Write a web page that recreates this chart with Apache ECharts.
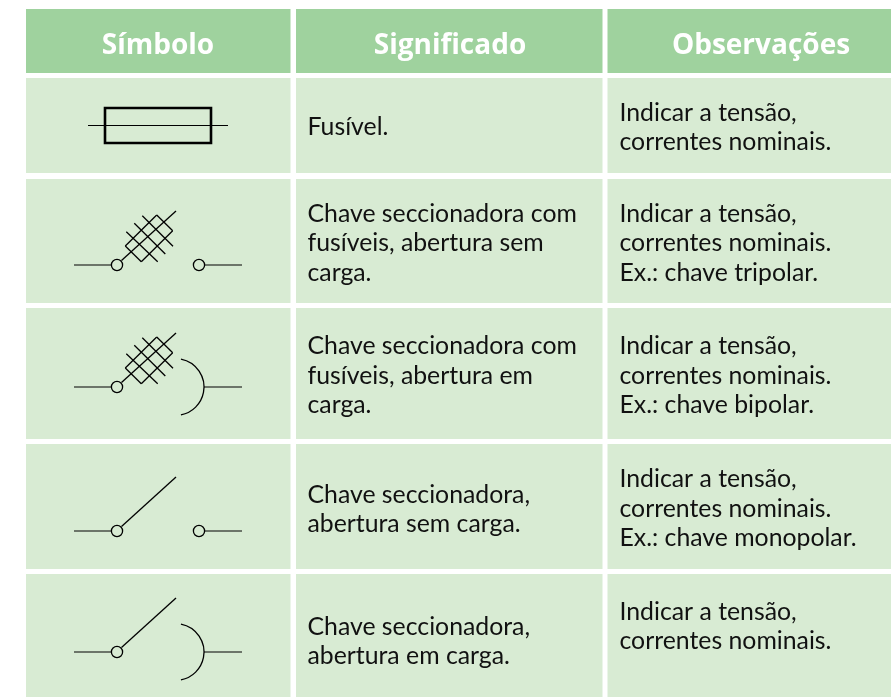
<!DOCTYPE html>
<html><head><meta charset="utf-8">
<style>html,body{margin:0;padding:0;background:#fff;overflow:hidden}#c{width:891px;height:697px}</style>
<script src="https://cdn.jsdelivr.net/npm/echarts@6/dist/echarts.min.js"></script>
</head><body><div id="c"></div>
<script>
const headers = ['Símbolo', 'Significado', 'Observações'];
const meanings = [
  ['Fusível.'],
  ['Chave seccionadora com', 'fusíveis, abertura sem', 'carga.'],
  ['Chave seccionadora com', 'fusíveis, abertura em', 'carga.'],
  ['Chave seccionadora,', 'abertura sem carga.'],
  ['Chave seccionadora,', 'abertura em carga.']
];
const notes = [
  ['Indicar a tensão,', 'correntes nominais.'],
  ['Indicar a tensão,', 'correntes nominais.', 'Ex.: chave tripolar.'],
  ['Indicar a tensão,', 'correntes nominais.', 'Ex.: chave bipolar.'],
  ['Indicar a tensão,', 'correntes nominais.', 'Ex.: chave monopolar.'],
  ['Indicar a tensão,', 'correntes nominais.']
];
const colEdges = [[26, 290.5], [296, 602.5], [607.5, 891]];
const rowEdges = [[9, 73], [78, 173], [179, 303], [308, 439], [444, 569], [574, 697]];
const meaningY = [127, 214, 346.5, 494.7, 627];
const noteY = [113, 214, 346.5, 479.3, 612];
const lineStep = 29.3;
const headerX = [158, 450, 761];
const symbolY = [125.5, 265, 387, 531, 652];
const symbolKinds = [
  {fuse: true},
  {hatch: true, end: 'open'},
  {hatch: true, end: 'arc'},
  {end: 'open'},
  {end: 'arc'}
];
const HEADER = '#9fd29e', CELL = '#d8ebd3', INK = '#000';

const cells = [];
rowEdges.forEach((r, i) => colEdges.forEach(c => cells.push([c[0], r[0], c[1], r[1], i === 0 ? HEADER : CELL])));

const texts = [];
headers.forEach((t, i) => texts.push({x: headerX[i], y: 46, t, head: true}));
meanings.forEach((ls, i) => ls.forEach((t, j) => texts.push({x: 307.5, y: meaningY[i] + j * lineStep, t})));
notes.forEach((ls, i) => ls.forEach((t, j) => texts.push({x: 619.5, y: noteY[i] + j * lineStep, t})));

const segs = [], circles = [], arcs = [], fuses = [];
symbolKinds.forEach((k, i) => {
  const y = symbolY[i];
  if (k.fuse) {
    fuses.push([105, y - 17.5, 211, y + 17.5]);
    segs.push([88, y, 228, y, 1]);
    return;
  }
  segs.push([74, y, 111, y, 1.1]);
  circles.push([117, y]);
  segs.push([121.5, y - 4.5, 176, y - 54, 1.3]);
  if (k.end === 'open') {
    circles.push([199, y]);
    segs.push([205, y, 242, y, 1.1]);
  } else {
    arcs.push([175.5, y]);
    segs.push([204, y, 242, y, 1.1]);
  }
  if (k.hatch) {
    segs.push([125.3, y - 19, 156.7, y - 50, 1.3]);
    segs.push([141.3, y - 3.3, 172.7, y - 34.3, 1.3]);
    segs.push([125.3, y - 19, 141.3, y - 3.3, 1.3]);
    segs.push([156.7, y - 50, 172.7, y - 34.3, 1.3]);
    segs.push([126.3, y - 33.3, 157.7, y - 3.3, 1.3]);
    segs.push([134.3, y - 41.7, 165.3, y - 11, 1.3]);
    segs.push([142.3, y - 49.3, 173, y - 18.7, 1.3]);
  }
});

const chart = echarts.init(document.getElementById('c'), null, {renderer: 'canvas'});
const base = {type: 'custom', coordinateSystem: 'cartesian2d', silent: true, animation: false, clip: false};
chart.setOption({
  animation: false,
  grid: {left: 0, right: 0, top: 0, bottom: 0},
  xAxis: {type: 'value', min: 0, max: 891, show: false},
  yAxis: {type: 'value', min: 0, max: 697, inverse: true, show: false},
  series: [
    {...base, z: 1, data: cells, encode: {x: [0, 2], y: [1, 3]},
      renderItem: (p, api) => {
        const a = api.coord([api.value(0), api.value(1)]), b = api.coord([api.value(2), api.value(3)]);
        return {type: 'rect', shape: {x: a[0], y: a[1], width: b[0] - a[0], height: b[1] - a[1]}, style: {fill: cells[p.dataIndex][4]}};
      }},
    {...base, z: 3, data: segs, encode: {x: [0, 2], y: [1, 3]},
      renderItem: (p, api) => {
        const a = api.coord([api.value(0), api.value(1)]), b = api.coord([api.value(2), api.value(3)]);
        return {type: 'line', shape: {x1: a[0], y1: a[1], x2: b[0], y2: b[1]}, style: {stroke: INK, lineWidth: api.value(4)}};
      }},
    {...base, z: 3, data: fuses, encode: {x: [0, 2], y: [1, 3]},
      renderItem: (p, api) => {
        const a = api.coord([api.value(0), api.value(1)]), b = api.coord([api.value(2), api.value(3)]);
        return {type: 'rect', shape: {x: a[0], y: a[1], width: b[0] - a[0], height: b[1] - a[1]}, style: {fill: 'none', stroke: '#000', lineWidth: 2.6}};
      }},
    {...base, z: 3, data: circles, encode: {x: 0, y: 1},
      renderItem: (p, api) => {
        const a = api.coord([api.value(0), api.value(1)]);
        return {type: 'circle', shape: {cx: a[0], cy: a[1], r: 5.6}, style: {fill: 'none', stroke: INK, lineWidth: 1.3}};
      }},
    {...base, z: 3, data: arcs, encode: {x: 0, y: 1},
      renderItem: (p, api) => {
        const a = api.coord([api.value(0), api.value(1)]);
        const t = 79 * Math.PI / 180;
        return {type: 'arc', shape: {cx: a[0], cy: a[1], r: 28.5, startAngle: -t, endAngle: t, clockwise: true}, style: {fill: 'none', stroke: INK, lineWidth: 1.3}};
      }},
    {...base, z: 4, data: texts.map(d => [d.x, d.y]), encode: {x: 0, y: 1},
      renderItem: (p, api) => {
        const d = texts[p.dataIndex], a = api.coord([api.value(0), api.value(1)]);
        return {type: 'text', x: a[0], y: a[1], style: d.head
          ? {text: d.t, fill: '#fff', font: 'bold 28px "Open Sans"', align: 'center', verticalAlign: 'middle'}
          : {text: d.t, fill: '#111', font: '24.8px Lato', align: 'left', verticalAlign: 'middle'}};
      }}
  ]
});
</script></body></html>
